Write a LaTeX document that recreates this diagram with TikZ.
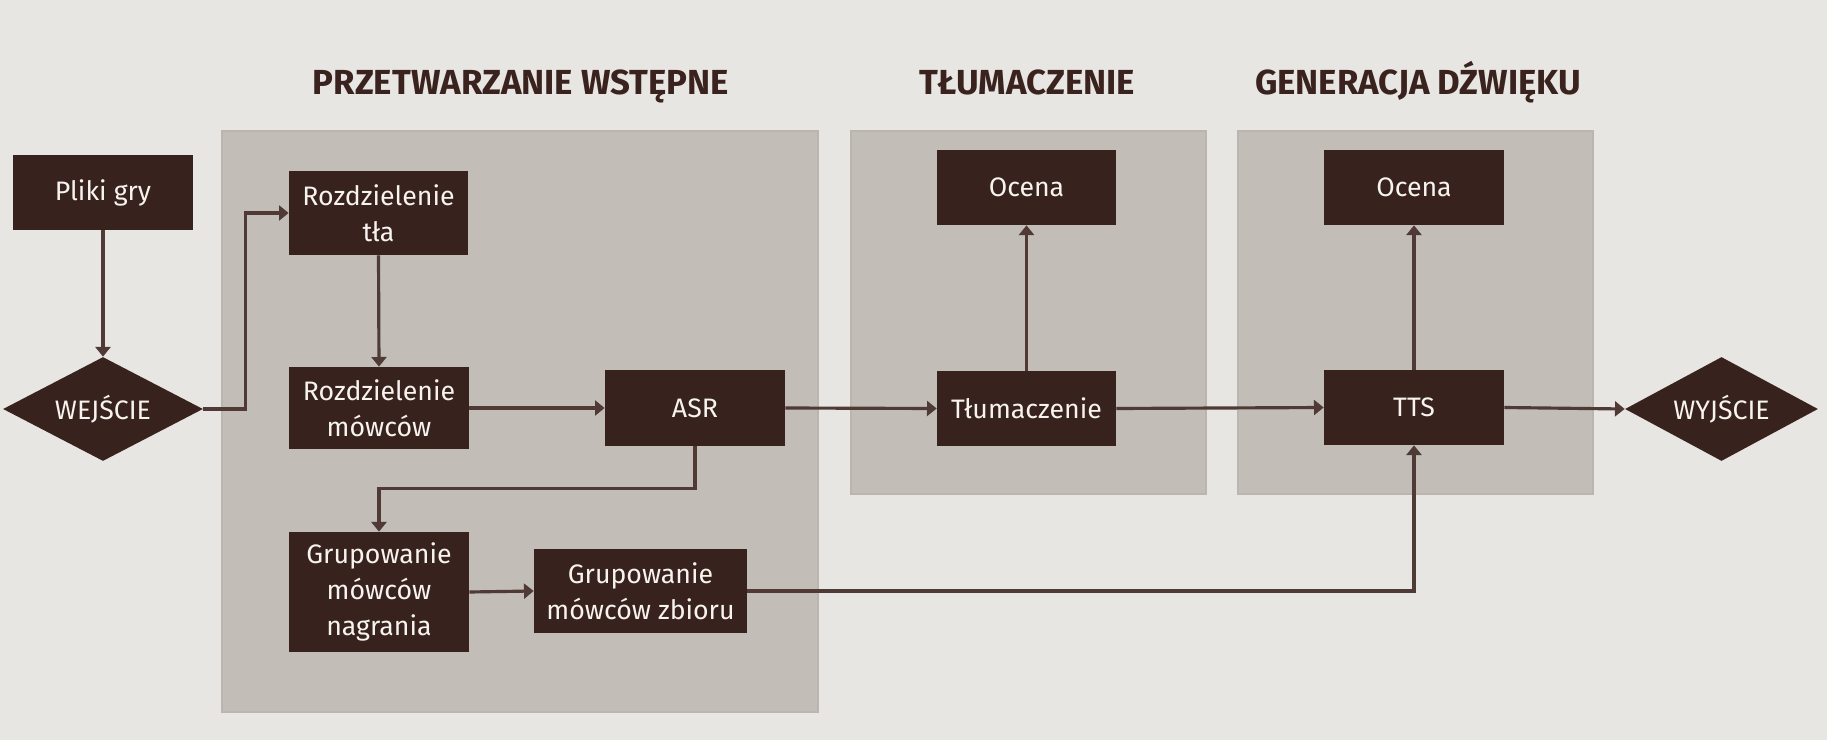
\documentclass[tikz,border=0pt]{standalone}
\usepackage{fontspec}
\setmainfont{Fira Sans}
\usetikzlibrary{shapes.geometric,arrows.meta}
\definecolor{bgc}{HTML}{E7E6E2}
\definecolor{panelc}{HTML}{C2BDB7}
\definecolor{panelb}{HTML}{BAB5AF}
\definecolor{boxc}{HTML}{38221D}
\definecolor{arrc}{HTML}{503A36}
\definecolor{txtc}{HTML}{F7F3EE}
\definecolor{titlec}{HTML}{3A231E}
\begin{document}
\begin{tikzpicture}[x=0.02cm,y=-0.02cm,
  box/.style={fill=boxc, text=txtc, inner sep=0pt, align=center,
    font=\fontsize{15.2}{20.5}\selectfont},
  dia/.style={diamond, aspect=2, fill=boxc, text=txtc, inner sep=0pt,
    font=\fontsize{15.2}{20.5}\selectfont},
  arr/.style={draw=arrc, line width=1.8pt, -{Triangle[length=5.5pt,width=8.5pt]}},
  panel/.style={fill=panelc, draw=panelb, line width=1pt},
  title/.style={text=titlec, anchor=base, font=\bfseries\fontsize{19.8}{22}\selectfont}
]
\useasboundingbox[fill=bgc] (0,0) rectangle (1827,740);
% panels
\draw[panel] (222,131) rectangle (818,712);
\draw[panel] (851,131) rectangle (1206,494);
\draw[panel] (1238,131) rectangle (1593,494);
% titles
\node[title] (t1) at (521,95) {PRZETWARZANIE WSTĘPNE};
\node[title] (t2) at (1027,95) {TŁUMACZENIE};
\node[title] (t3) at (1418,95) {GENERACJA DŹWIĘKU};
% nodes
\node[box, minimum width=3.6cm, minimum height=1.5cm] (pg) at (103,192.5) {Pliki gry};
\node[dia, minimum width=4cm, minimum height=2.08cm] (wej) at (103,409) {WEJŚCIE};
\node[box, minimum width=3.58cm, minimum height=1.68cm] (rt) at (378.5,213) {Rozdzielenie\\tła};
\node[box, minimum width=3.6cm, minimum height=1.64cm] (rm) at (379,408) {Rozdzielenie\\mówców};
\node[box, minimum width=3.6cm, minimum height=1.52cm] (asr) at (695,408) {ASR};
\node[box, minimum width=3.6cm, minimum height=2.4cm] (gn) at (379,592) {Grupowanie\\mówców\\nagrania};
\node[box, minimum width=4.26cm, minimum height=1.68cm] (gz) at (640.5,591) {Grupowanie\\mówców zbioru};
\node[box, minimum width=3.58cm, minimum height=1.5cm] (oc1) at (1026.5,187.5) {Ocena};
\node[box, minimum width=3.58cm, minimum height=1.5cm] (tl) at (1026.5,408.5) {Tłumaczenie};
\node[box, minimum width=3.6cm, minimum height=1.5cm] (oc2) at (1414,187.5) {Ocena};
\node[box, minimum width=3.6cm, minimum height=1.5cm] (tts) at (1414,407.5) {TTS};
\node[dia, minimum width=3.86cm, minimum height=2.08cm] (wyj) at (1721.5,409) {WYJŚCIE};
% connectors
\draw[arr] (pg.south) -- (wej.north);
\draw[arr] (wej.east) -- ++(42,0) |- (rt.west);
\draw[arr] (rt.south) -- (rm.north);
\draw[arr] (rm.east) -- (asr.west);
\draw[arr] (asr.south) -- ++(0,42) -| (gn.north);
\draw[arr] (gn.east) -- (gz.west);
\draw[arr] (gz.east) -| (tts.south);
\draw[arr] (asr.east) -- (tl.west);
\draw[arr] (tl.north) -- (oc1.south);
\draw[arr] (tl.east) -- (tts.west);
\draw[arr] (tts.north) -- (oc2.south);
\draw[arr] (tts.east) -- (wyj.west);
\end{tikzpicture}
\end{document}
